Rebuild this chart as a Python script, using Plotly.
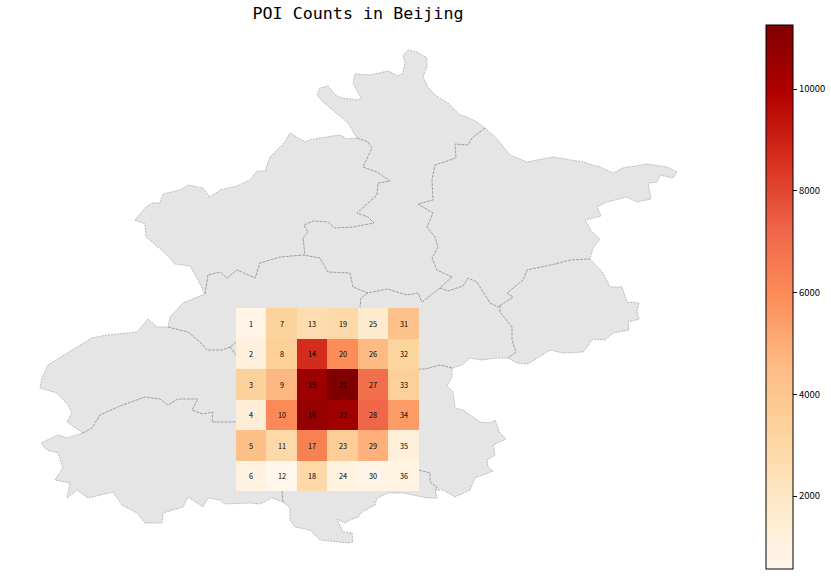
#!/usr/bin/env python3
"""POI counts on a 6x6 grid over the Beijing district map."""
import plotly.graph_objects as go

WIDTH, HEIGHT = 831, 576
TITLE_FONT = "DejaVu Sans Mono"
LABEL_FONT = "Noto Sans CJK SC"

# grid cell edges in map units
GRID_X = [236, 266, 297, 327, 358, 388, 419]
GRID_Y = [308, 339, 369, 400, 430, 461, 491]

# POI counts, one list per grid row
ROW_1 = [800, 3300, 2700, 2900, 1700, 4200]
ROW_2 = [1200, 3500, 8700, 5900, 4600, 3200]
ROW_3 = [3400, 4700, 10500, 11258, 6900, 3500]
ROW_4 = [1400, 6000, 10700, 10400, 7200, 5500]
ROW_5 = [4300, 2900, 6300, 3600, 4900, 1300]
ROW_6 = [1000, 565, 2900, 1050, 800, 950]
COUNTS = [ROW_1, ROW_2, ROW_3, ROW_4, ROW_5, ROW_6]

# cell numbers run down the columns
CELL_IDS = [[col * 6 + row + 1 for col in range(6)] for row in range(6)]

ORRD = ["#fff7ec", "#fee8c8", "#fdd49e", "#fdbb84", "#fc8d59",
        "#ef6548", "#d7301f", "#b30000", "#7f0000"]

OUTLINE_X = [135, 145, 152, 160, 163, 180, 188, 203, 210, 220, 237, 250, 257, 265, 270,
             285, 290, 297, 305, 310, 320, 340, 347, 357, 348, 335, 323, 317, 320, 328,
             335, 342, 358, 361, 353, 355, 370, 388, 398, 403, 405, 403, 408, 417, 427,
             427, 423, 428, 435, 448, 460, 467, 477, 485, 498, 510, 527, 553, 583, 600,
             613, 623, 647, 667, 677, 673, 660, 657, 648, 651, 637, 627, 607, 597, 601,
             585, 592, 600, 593, 590, 603, 610, 622, 627, 639, 637, 639, 628, 629, 613,
             605, 593, 583, 563, 550, 528, 517, 508, 497, 480, 470, 462, 452, 452, 447,
             453, 455, 463, 480, 490, 495, 500, 506, 493, 495, 487, 488, 493, 475, 470,
             455, 443, 435, 437, 428, 413, 403, 388, 377, 375, 362, 358, 350, 345, 337,
             343, 352, 353, 348, 320, 310, 295, 290, 290, 283, 272, 260, 250, 225, 220,
             208, 203, 188, 183, 163, 162, 145, 137, 122, 113, 88, 77, 67, 70, 55,
             63, 58, 47, 41, 58, 67, 83, 67, 72, 68, 57, 40, 42, 48, 72,
             80, 92, 107, 137, 148, 157, 168, 170, 183, 205, 198, 190, 175, 165, 146, 145, 135]
OUTLINE_Y = [220, 208, 203, 203, 194, 190, 185, 188, 197, 190, 186, 180, 171, 171, 157,
             142, 133, 137, 142, 140, 138, 135, 139, 138, 123, 112, 102, 95, 88, 86,
             95, 98, 100, 98, 83, 74, 75, 71, 76, 73, 62, 55, 50, 52, 58,
             67, 77, 87, 95, 103, 115, 117, 122, 128, 140, 155, 162, 157, 162, 167,
             173, 168, 164, 167, 172, 178, 175, 182, 183, 199, 202, 197, 202, 207, 216,
             220, 232, 239, 248, 259, 273, 287, 287, 302, 303, 312, 319, 322, 330, 333,
             340, 339, 352, 353, 350, 364, 363, 358, 358, 360, 358, 365, 368, 377, 386,
             392, 408, 410, 422, 423, 420, 433, 439, 445, 455, 460, 467, 471, 478, 490,
             497, 490, 490, 498, 498, 495, 493, 493, 498, 505, 512, 517, 520, 523, 519,
             532, 533, 542, 543, 540, 530, 527, 520, 508, 502, 498, 504, 503, 504, 500,
             498, 507, 497, 507, 513, 523, 523, 513, 505, 492, 498, 490, 498, 483, 480,
             468, 453, 450, 443, 435, 438, 433, 422, 413, 405, 393, 388, 378, 365, 350,
             345, 338, 335, 332, 319, 327, 327, 317, 303, 294, 280, 266, 264, 253, 237, 224, 220]

# internal district borders
BORDERS_X = [
    [83, 92, 100, 120, 145, 160, 168, 178, 198, 192, 203, 213, 212, 233, 240],
    [168, 188, 200, 207, 222, 230, 236, 240],
    [230, 237, 240],
    [205, 208, 220, 227, 237, 255, 260, 280, 303, 320, 328, 350, 353, 368, 387, 407, 418, 422, 440, 452],
    [368, 361, 360],
    [357, 368, 372, 363, 377, 390, 378, 377, 357, 368, 374, 353, 335, 328, 313, 304, 308, 303, 305],
    [485, 472, 468, 455, 456, 435, 432, 433, 418, 433, 427, 435, 438, 432, 437, 452],
    [440, 448, 463, 468, 477, 490, 498, 513, 507, 523, 527, 555, 570, 590],
    [500, 500, 512, 512, 516, 508],
    [452, 440, 425, 419],
    [419, 430, 430, 437, 435],
    [282, 283],
]
BORDERS_Y = [
    [433, 428, 415, 406, 397, 399, 405, 399, 399, 410, 414, 412, 422, 422, 421],
    [327, 332, 342, 350, 350, 347, 342, 340],
    [347, 357, 360],
    [294, 275, 272, 278, 270, 278, 263, 257, 255, 258, 272, 273, 287, 293, 289, 295, 293, 302, 288, 277],
    [293, 298, 307],
    [138, 142, 148, 167, 172, 181, 183, 195, 213, 217, 223, 227, 228, 222, 221, 225, 232, 238, 255],
    [128, 138, 145, 144, 158, 165, 180, 200, 204, 213, 227, 237, 247, 258, 270, 277],
    [288, 291, 286, 278, 282, 303, 307, 297, 293, 280, 270, 264, 260, 259],
    [305, 312, 327, 340, 352, 358],
    [368, 365, 369, 369],
    [470, 473, 482, 487, 490],
    [491, 502],
]

fig = go.Figure()

# the map goes on the base axes, the grid on an overlay so it stays on top
fig.add_trace(go.Scatter(
    x=OUTLINE_X, y=OUTLINE_Y, mode="lines", fill="toself", fillcolor="#e5e5e5",
    line=dict(color="#b4b4b4", width=0.9, dash="2px,1px"), hoverinfo="skip", showlegend=False,
))
for bx, by in zip(BORDERS_X, BORDERS_Y):
    fig.add_trace(go.Scatter(
        x=bx, y=by, mode="lines",
        line=dict(color="#969696", width=0.9, dash="3px,1px"), hoverinfo="skip", showlegend=False,
    ))

fig.add_trace(go.Heatmap(
    x=GRID_X, y=GRID_Y, z=COUNTS, text=CELL_IDS, texttemplate="%{text}",
    textfont=dict(family=LABEL_FONT, size=7.3, color="black"),
    colorscale=ORRD, zmin=565, zmax=11258, xaxis="x2", yaxis="y2",
    colorbar=dict(
        x=766 / WIDTH, xanchor="left", xpad=0, thickness=27,
        y=1 - 25 / HEIGHT, yanchor="top", ypad=0, len=544 / HEIGHT,
        outlinecolor="black", outlinewidth=1,
        tick0=0, dtick=2000, tickformat="d",
        ticks="outside", ticklen=4, tickwidth=1, tickcolor="black",
        tickfont=dict(family=LABEL_FONT, size=9.5, color="black"),
    ),
))

axis_x = dict(range=[0, WIDTH], visible=False, fixedrange=True)
axis_y = dict(range=[HEIGHT, 0], visible=False, fixedrange=True)
fig.update_layout(
    width=WIDTH, height=HEIGHT,
    margin=dict(l=0, r=0, t=0, b=0, autoexpand=False),
    paper_bgcolor="white", plot_bgcolor="white",
    title=dict(text="POI Counts in Beijing", x=358 / WIDTH, xanchor="center",
               y=1 - 13 / HEIGHT, yanchor="middle",
               font=dict(family=TITLE_FONT, size=16.7, color="black")),
    xaxis=axis_x, yaxis=axis_y,
    xaxis2=dict(axis_x, overlaying="x"), yaxis2=dict(axis_y, overlaying="y"),
)

# drop the default body margin so the figure fills the window
fig.write_html("out.html", config={"displayModeBar": False},
               post_script="document.body.style.margin = '0';")
